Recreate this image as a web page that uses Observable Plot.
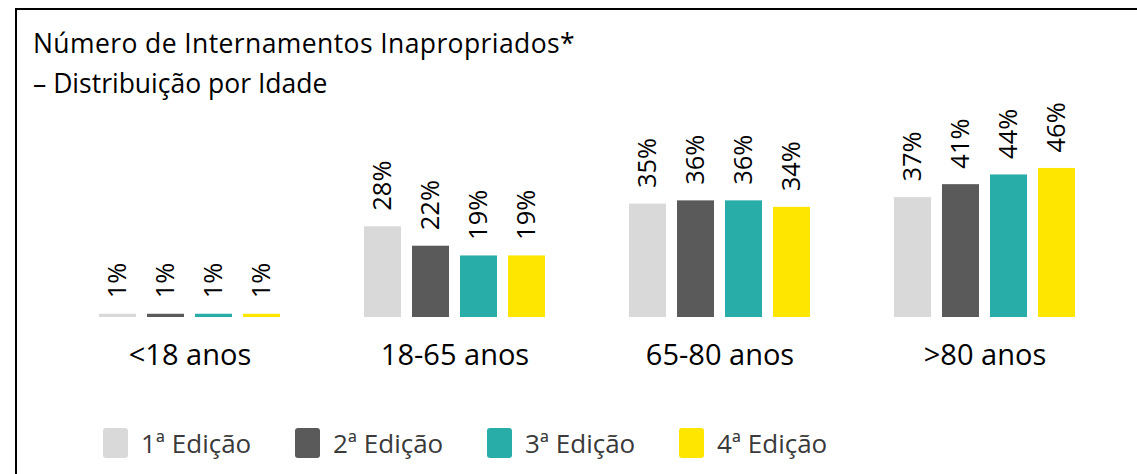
<!DOCTYPE html>
<html>
<head>
<meta charset="utf-8">
<script src="https://cdn.jsdelivr.net/npm/d3@7"></script>
<script src="https://cdn.jsdelivr.net/npm/@observablehq/plot@0.6"></script>
<style>
  html, body { margin: 0; padding: 0; background: #fff; width: 1137px; height: 474px; overflow: hidden; font-family: "Open Sans", Roboto, sans-serif; }
  #frame { position: absolute; left: 15px; top: 8px; width: 1130px; height: 480px; border-top: 2px solid #000; border-left: 2px solid #000; }
  #title { position: absolute; left: 33px; top: 27px; font-size: 26.5px; letter-spacing: 0.4px; line-height: 32px; color: #000; white-space: nowrap; }
  #subtitle { position: absolute; left: 33px; top: 67px; font-size: 26.5px; line-height: 32px; color: #000; white-space: nowrap; }
  #chart { position: absolute; left: 0; top: 100px; }
  .item { position: absolute; top: 428px; height: 30px; display: flex; align-items: center; font-size: 26px; color: #3a3a3a; white-space: nowrap; }
  .sw { width: 25px; height: 30px; border-radius: 3px; margin-right: 13px; }
</style>
</head>
<body>
<div id="frame"></div>
<div id="title">Número de Internamentos Inapropriados*</div>
<div id="subtitle">– Distribuição por Idade</div>
<div id="chart"></div>
<div id="legend"></div>
<script>
const groups = ["<18 anos", "18-65 anos", "65-80 anos", ">80 anos"];
const editions = ["1ª Edição", "2ª Edição", "3ª Edição", "4ª Edição"];
const colors = ["#d9d9d9", "#5a5a5a", "#29ada9", "#ffe600"];
const ed1 = [1, 28, 35, 37];
const ed2 = [1, 22, 36, 41];
const ed3 = [1, 19, 36, 44];
const ed4 = [1, 19, 34, 46];

const series = [ed1, ed2, ed3, ed4];
const data = [];
groups.forEach((g, gi) => {
  editions.forEach((e, ei) => {
    data.push({group: g, edition: e, value: series[ei][gi]});
  });
});

const chart = Plot.plot({
  width: 1137,
  height: 300,
  marginTop: 55,
  marginBottom: 83,
  marginLeft: 56,
  marginRight: 20,
  style: {fontFamily: "'Open Sans', Roboto, sans-serif", background: "transparent"},
  fx: {domain: groups, padding: 0, label: null},
  x: {domain: editions, paddingInner: 0.23, paddingOuter: 0.875, axis: null},
  y: {domain: [0, 50], axis: null},
  color: {domain: editions, range: colors},
  marks: [
    Plot.barY(data, {fx: "group", x: "edition", y: "value", fill: "edition"}),
    Plot.text(data, {fx: "group", x: "edition", y: "value", text: d => d.value + "%", rotate: -90, textAnchor: "start", lineAnchor: "middle", dy: -16, fontSize: 25.5, fill: "#000"}),
    Plot.axisFx({anchor: "bottom", tickSize: 0, tickPadding: 27, fontSize: 29, label: null, color: "#000"})
  ]
});
document.getElementById("chart").appendChild(chart);

const legend = document.getElementById("legend");
editions.forEach((e, i) => {
  const item = document.createElement("div");
  item.className = "item";
  item.style.left = (103 + i * 192) + "px";
  const sw = document.createElement("div");
  sw.className = "sw";
  sw.style.background = colors[i];
  const t = document.createElement("span");
  t.textContent = e;
  item.appendChild(sw);
  item.appendChild(t);
  legend.appendChild(item);
});
</script>
</body>
</html>
